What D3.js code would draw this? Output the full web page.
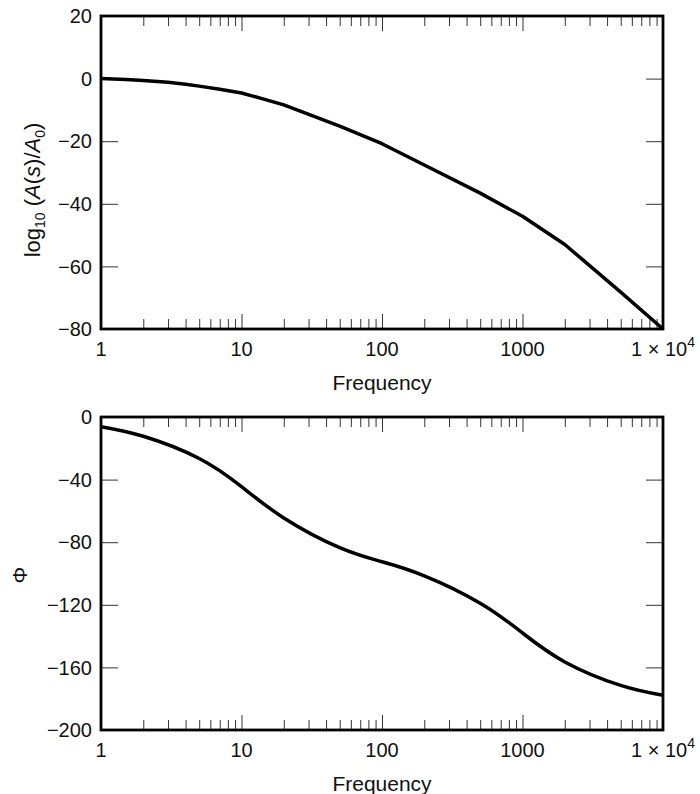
<!DOCTYPE html>
<html>
<head>
<meta charset="utf-8">
<script src="https://cdn.jsdelivr.net/npm/d3@7"></script>
<style>
  body { margin: 0; background: #fff; }
  svg text { font-family: "Liberation Sans", Arial, Helvetica, sans-serif; fill: #111; }
  .tick line { stroke: #333; stroke-width: 1; }
  .domain { display: none; }
</style>
</head>
<body>
<div id="chart"></div>
<script>
// frequency axis shared by both panels
var freqTicks = [1, 10, 100, 1000, 10000];
var freqLabels = ["1", "10", "100", "1000", "1 \u00d7 10"];

// magnitude panel
var magFreq = [1, 1.5, 2, 3, 4, 5, 7, 10, 14, 20, 50, 100, 200, 500, 1000, 2000, 5000, 10000];
var magVals = [0, -0.3, -0.6, -1.2, -1.8, -2.4, -3.4, -4.6, -6.4, -8.4, -15.2, -20.8, -27.6, -36.6, -44.0, -53.0, -68.2, -80.0];
var magTicks = [20, 0, -20, -40, -60, -80];

// phase panel
var phaseFreq = [1, 2, 5, 10, 20, 50, 100, 200, 500, 1000, 2000, 5000, 10000];
var phaseVals = [-6.2, -12.3, -26.5, -44.5, -64.5, -83.5, -92.5, -101.5, -119.0, -138.0, -156.5, -171.5, -177.8];
var phaseTicks = [0, -40, -80, -120, -160, -200];

var svg = d3.select("#chart").append("svg")
    .attr("width", 700)
    .attr("height", 794);

var left = 101, right = 663;

var x = d3.scaleLog().domain([1, 10000]).range([left, right]);

// minor ticks 2..9 in every decade
var minor = [];
[1, 10, 100, 1000].forEach(function(d) {
  for (var k = 2; k <= 9; k++) minor.push(d * k);
});

function panel(top, bottom, yDomain, yTicks, freq, vals, curve, titleFn) {
  var y = d3.scaleLinear().domain(yDomain).range([bottom, top]);
  var g = svg.append("g");

  // x ticks, bottom and top, pointing inward
  g.append("g").attr("transform", "translate(0," + bottom + ")")
      .call(d3.axisBottom(x).tickValues(minor).tickSize(-10).tickFormat(""));
  g.append("g").attr("transform", "translate(0," + bottom + ")")
      .call(d3.axisBottom(x).tickValues([10, 100, 1000]).tickSize(-15).tickFormat(""));
  g.append("g").attr("transform", "translate(0," + top + ")")
      .call(d3.axisTop(x).tickValues(minor).tickSize(-10).tickFormat(""));
  g.append("g").attr("transform", "translate(0," + top + ")")
      .call(d3.axisTop(x).tickValues([10, 100, 1000]).tickSize(-15).tickFormat(""));

  // y ticks on both sides
  g.append("g").attr("transform", "translate(" + left + ",0)")
      .call(d3.axisLeft(y).tickValues(yTicks).tickSize(-17).tickFormat(""));
  g.append("g").attr("transform", "translate(" + right + ",0)")
      .call(d3.axisRight(y).tickValues(yTicks).tickSize(-17).tickFormat(""));

  // y tick labels
  g.selectAll("text.ylab").data(yTicks).enter().append("text")
      .attr("class", "ylab")
      .attr("x", 92)
      .attr("y", function(d) { return y(d); })
      .attr("dy", "0.36em")
      .attr("text-anchor", "end")
      .style("font-size", "20px")
      .text(function(d) { return d < 0 ? "\u2212" + Math.abs(d) : d; });

  // x tick labels
  var xl = g.selectAll("text.xlab").data(freqTicks).enter().append("text")
      .attr("class", "xlab")
      .attr("x", function(d) { return x(d); })
      .attr("y", bottom + 27)
      .attr("text-anchor", "middle")
      .style("font-size", "20px")
      .text(function(d, i) { return freqLabels[i]; });
  xl.filter(function(d) { return d === 10000; })
    .append("tspan").attr("dy", -9).style("font-size", "14px").text("4");

  g.append("text")
      .attr("x", (left + right) / 2)
      .attr("y", bottom + 61)
      .attr("text-anchor", "middle")
      .style("font-size", "21px")
      .text("Frequency");

  // the curve
  var line = d3.line()
      .x(function(d, i) { return x(freq[i]); })
      .y(function(d) { return y(d); })
      .curve(curve);
  g.append("path")
      .datum(vals)
      .attr("fill", "none")
      .attr("stroke", "#000")
      .attr("stroke-width", 3.5)
      .attr("stroke-linejoin", "round")
      .attr("d", line);

  // frame
  g.append("rect")
      .attr("x", left).attr("y", top)
      .attr("width", right - left).attr("height", bottom - top)
      .attr("fill", "none")
      .attr("stroke", "#000")
      .attr("stroke-width", 2.8);

  titleFn(g);
}

panel(16, 329, [-80, 20], magTicks, magFreq, magVals, d3.curveLinear, function(g) {
  var t = g.append("text")
      .attr("transform", "translate(40,190) rotate(-90)")
      .attr("text-anchor", "middle")
      .style("font-size", "22px");
  t.append("tspan").text("log");
  t.append("tspan").attr("dy", 5).style("font-size", "14px").text("10");
  t.append("tspan").attr("dy", -5).text(" (");
  t.append("tspan").style("font-style", "italic").text("A");
  t.append("tspan").text("(");
  t.append("tspan").style("font-style", "italic").text("s");
  t.append("tspan").text(")/");
  t.append("tspan").style("font-style", "italic").text("A");
  t.append("tspan").attr("dy", 5).style("font-size", "14px").text("0");
  t.append("tspan").attr("dy", -5).text(")");
});

panel(417, 730, [-200, 0], phaseTicks, phaseFreq, phaseVals, d3.curveNatural, function(g) {
  g.append("text")
      .attr("transform", "translate(27,575) rotate(-90)")
      .attr("text-anchor", "middle")
      .style("font-size", "21px")
      .text("\u03a6");
});
</script>
</body>
</html>
